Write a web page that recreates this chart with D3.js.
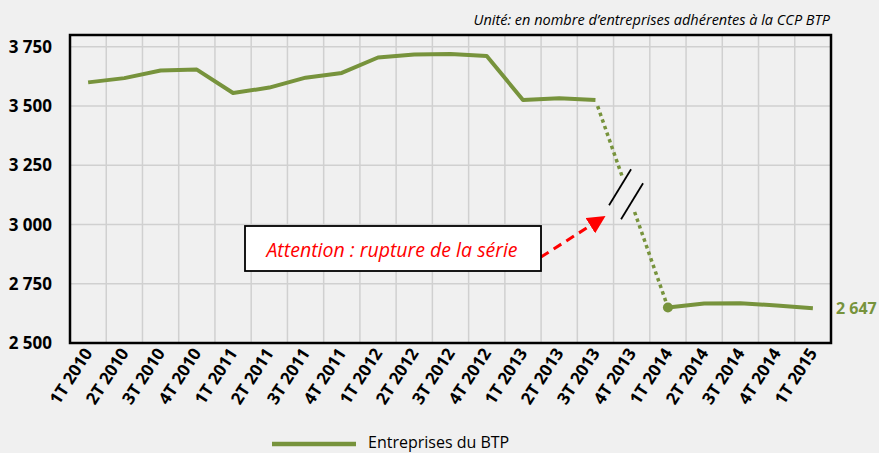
<!DOCTYPE html>
<html lang="fr">
<head>
<meta charset="utf-8">
<style>
  html, body { margin: 0; background: #f0f0f0; }
  svg { display: block; font-family: "Open Sans", sans-serif; }
</style>
</head>
<body>
<svg id="chart" width="879" height="453"></svg>
<script src="https://d3js.org/d3.v7.min.js"></script>
<script>
// quarters 1T 2010 .. 1T 2015
var categories = ["1T 2010", "2T 2010", "3T 2010", "4T 2010",
                  "1T 2011", "2T 2011", "3T 2011", "4T 2011",
                  "1T 2012", "2T 2012", "3T 2012", "4T 2012",
                  "1T 2013", "2T 2013", "3T 2013", "4T 2013",
                  "1T 2014", "2T 2014", "3T 2014", "4T 2014",
                  "1T 2015"];
// 4T 2013 missing: series break
var values = [3600, 3618, 3650, 3654,
              3555, 3578, 3620, 3640,
              3705, 3718, 3720, 3711,
              3526, 3533, 3526, null,
              2650, 2667, 2668, 2658,
              2647];
var yTicks = [2500, 2750, 3000, 3250, 3500, 3750];
var seriesName = "Entreprises du BTP";
var unitText = "Unité: en nombre d’entreprises adhérentes à la CCP BTP";
var noteText = "Attention : rupture de la série";

var green = "#77933c";
var svg = d3.select("#chart");
var m = {left: 70, right: 831, top: 35, bottom: 343};

var x = d3.scaleBand().domain(categories).range([m.left, m.right]);
var cx = function (c) { return x(c) + x.bandwidth() / 2; };
var y = d3.scaleLinear().domain([2500, 3800]).range([m.bottom, m.top]);
var fmt = function (v) { return d3.format(",")(v).replace(",", " "); };

// grid
svg.append("g").selectAll("line").data(yTicks.slice(1)).join("line")
    .attr("x1", m.left).attr("x2", m.right)
    .attr("y1", function (d) { return y(d); }).attr("y2", function (d) { return y(d); })
    .attr("stroke", "#d0d0d0").attr("stroke-width", 1.5);
svg.append("g").selectAll("line").data(categories.slice(1)).join("line")
    .attr("x1", function (d) { return x(d); }).attr("x2", function (d) { return x(d); })
    .attr("y1", m.top).attr("y2", m.bottom)
    .attr("stroke", "#d0d0d0").attr("stroke-width", 1.5);

// frame
svg.append("rect")
    .attr("x", m.left).attr("y", m.top)
    .attr("width", m.right - m.left).attr("height", m.bottom - m.top)
    .attr("fill", "none").attr("stroke", "#000").attr("stroke-width", 2.5);

// y axis labels
svg.append("g").selectAll("text").data(yTicks).join("text")
    .attr("x", 52).attr("y", function (d) { return y(d) + 6; })
    .attr("text-anchor", "end")
    .attr("font-size", 17).attr("font-weight", "bold").attr("fill", "#000")
    .text(fmt);

// x axis labels
svg.append("g").selectAll("text").data(categories).join("text")
    .attr("transform", function (d) { return "translate(" + (cx(d) + 5) + "," + 353 + ") rotate(-57)"; })
    .attr("text-anchor", "end")
    .attr("font-size", 17).attr("font-weight", "bold").attr("fill", "#000")
    .text(function (d) { return d; });

// main line (solid parts)
var line = d3.line()
    .defined(function (d) { return d.v != null; })
    .x(function (d) { return cx(d.c); })
    .y(function (d) { return y(d.v); });
var pts = categories.map(function (c, i) { return {c: c, v: values[i]}; });
svg.append("path").datum(pts)
    .attr("d", line)
    .attr("fill", "none").attr("stroke", green).attr("stroke-width", 4)
    .attr("stroke-linejoin", "round");

// dotted connector across the break, with a gap
var iGap = values.indexOf(null);
var p0 = [cx(categories[iGap - 1]), y(values[iGap - 1])];
var p1 = [cx(categories[iGap + 1]), y(values[iGap + 1])];
var along = function (t) { return [p0[0] + (p1[0] - p0[0]) * t, p0[1] + (p1[1] - p0[1]) * t]; };
[[0.03, 0.37], [0.54, 0.97]].forEach(function (seg) {
  var a = along(seg[0]), b = along(seg[1]);
  svg.append("line")
      .attr("x1", a[0]).attr("y1", a[1]).attr("x2", b[0]).attr("y2", b[1])
      .attr("stroke", green).attr("stroke-width", 3.5).attr("stroke-dasharray", "3.5,3.5");
});
// break marks
var mid = along(0.45);
[[-8, -6], [4, 8]].forEach(function (o) {
  svg.append("line")
      .attr("x1", mid[0] + o[0] - 11).attr("y1", mid[1] + o[1] + 18)
      .attr("x2", mid[0] + o[0] + 11).attr("y2", mid[1] + o[1] - 18)
      .attr("stroke", "#000").attr("stroke-width", 1.8);
});

// point at 1T 2014
svg.append("circle")
    .attr("cx", p1[0]).attr("cy", p1[1]).attr("r", 5).attr("fill", green);

// last value label
var last = categories.length - 1;
svg.append("text")
    .attr("x", 836).attr("y", y(values[last]) + 6)
    .attr("font-size", 16).attr("font-weight", "bold").attr("fill", green)
    .text(fmt(values[last]));

// unit text
svg.append("text")
    .attr("x", 830).attr("y", 25).attr("text-anchor", "end")
    .attr("font-size", 14.5).attr("font-style", "italic").attr("fill", "#000")
    .text(unitText);

// annotation box + arrow
svg.append("defs").append("marker")
    .attr("id", "arr").attr("viewBox", "0 0 10 10")
    .attr("refX", 9).attr("refY", 5)
    .attr("markerWidth", 18).attr("markerHeight", 18)
    .attr("markerUnits", "userSpaceOnUse")
    .attr("orient", "auto")
  .append("path").attr("d", "M0,0 L10,5 L0,10 Z").attr("fill", "#ff0000");

svg.append("line")
    .attr("x1", 541).attr("y1", 257).attr("x2", 604).attr("y2", 217)
    .attr("stroke", "#ff0000").attr("stroke-width", 3)
    .attr("stroke-dasharray", "9,6")
    .attr("marker-end", "url(#arr)");

svg.append("rect")
    .attr("x", 245).attr("y", 226).attr("width", 296).attr("height", 45)
    .attr("fill", "#fff").attr("stroke", "#000").attr("stroke-width", 1.8);
svg.append("text")
    .attr("x", 392).attr("y", 257).attr("text-anchor", "middle")
    .attr("font-size", 19.5).attr("font-style", "italic").attr("fill", "#ff0000")
    .text(noteText);

// legend
svg.append("line")
    .attr("x1", 272).attr("x2", 356).attr("y1", 444).attr("y2", 444)
    .attr("stroke", green).attr("stroke-width", 4.5);
svg.append("text")
    .attr("x", 368).attr("y", 448)
    .attr("font-size", 16).attr("fill", "#000")
    .text(seriesName);
</script>
</body>
</html>
